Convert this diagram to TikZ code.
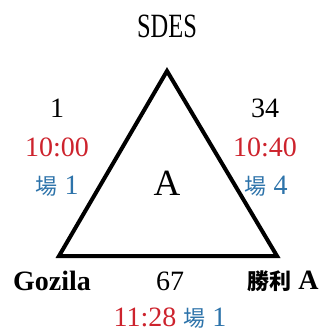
\documentclass[tikz,border=0pt]{standalone}
\usepackage{fontspec}
\setmainfont{Liberation Serif}
\newfontfamily\cjk{Noto Sans CJK TC}
\definecolor{tred}{RGB}{205,35,45}
\definecolor{tblue}{RGB}{45,115,170}
\begin{document}
\begin{tikzpicture}[x=1bp,y=-1bp,
  lbl/.style={inner sep=0pt, font=\fontsize{28bp}{30bp}\selectfont},
  bold/.style={inner sep=0pt, font=\fontsize{28bp}{30bp}\selectfont\bfseries},
  edge/.style={line width=4bp, line join=miter, black}]
\useasboundingbox (0,0) rectangle (326,332);
\coordinate (top) at (167,71);
\coordinate (bl) at (59,256);
\coordinate (br) at (277,256);
\draw[edge] (top) -- (bl) -- (br) -- cycle;
\node[lbl] (sdes) at (167,26) {\scalebox{0.72}[1]{\fontsize{34bp}{36bp}\selectfont SDES}};
\node[lbl] (n1) at (57,108) {1};
\node[lbl] (n34) at (265,108) {34};
\node[lbl, text=tred] (t1) at (57,147) {10:00};
\node[lbl, text=tred] (t2) at (265,147) {10:40};
\node[lbl, text=tblue] (f1) at (57,186) {{\cjk\fontsize{22bp}{24bp}\selectfont 場} 1};
\node[lbl, text=tblue] (f4) at (266,186) {{\cjk\fontsize{22bp}{24bp}\selectfont 場} 4};
\node[lbl, font=\fontsize{37bp}{38bp}\selectfont] (a) at (167,183) {A};
\node[bold] (goz) at (52,281) {Gozila};
\node[lbl] (n67) at (170,281) {67};
\node[bold] (win) at (283,281) {{\cjk\fontsize{22bp}{24bp}\selectfont 勝利} A};
\node[lbl] (bot) at (170,318) {\textcolor{tred}{11:28} \textcolor{tblue}{{\cjk\fontsize{22bp}{24bp}\selectfont 場} 1}};
\end{tikzpicture}
\end{document}
